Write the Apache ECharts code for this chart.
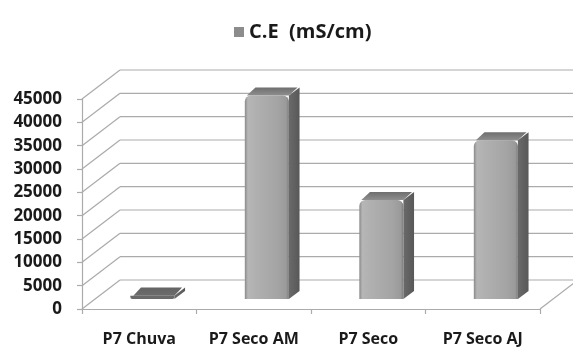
<!DOCTYPE html>
<html>
<head>
<meta charset="utf-8">
<script src="https://cdn.jsdelivr.net/npm/echarts@6/dist/echarts.min.js"></script>
<style>
  html, body { margin: 0; padding: 0; background: #ffffff; }
  #chart { width: 573px; height: 350px; }
</style>
</head>
<body>
<div id="chart"></div>
<script>
// Condutividade elétrica por ponto de coleta
const categories = ['P7 Chuva', 'P7 Seco AM', 'P7 Seco', 'P7 Seco AJ'];
const ceValues = [700, 43600, 21200, 34000];
const yTicks = [0, 5000, 10000, 15000, 20000, 25000, 30000, 35000, 40000, 45000];
const seriesName = 'C.E  (mS/cm)';

// Oblique projection of the 3D box: offset of the back wall in pixels
const DEPTH_DX = 38;
const DEPTH_DY = -29;
// Bar position inside the depth (fraction of floor depth) and its width (fraction of band)
const BAR_FRONT = 0.345;
const BAR_DEPTH = 0.28;
const BAR_WIDTH = 0.385;

const GRID_COLOR = '#ababab';
const FONT = '"Open Sans", "Liberation Sans", sans-serif';

const chart = echarts.init(document.getElementById('chart'), null, { renderer: 'canvas' });

function renderWalls(params, api) {
  const cs = params.coordSys;
  const x0 = cs.x, x1 = cs.x + cs.width;
  const children = [];
  const lineStyle = { stroke: GRID_COLOR, lineWidth: 1.2, fill: null };
  yTicks.forEach(function (v) {
    const y = api.coord([0, v])[1];
    // back wall gridline
    children.push({ type: 'line', shape: { x1: x0 + DEPTH_DX, y1: y + DEPTH_DY, x2: x1 + DEPTH_DX, y2: y + DEPTH_DY }, style: lineStyle });
    // left wall diagonal
    children.push({ type: 'line', shape: { x1: x0, y1: y, x2: x0 + DEPTH_DX, y2: y + DEPTH_DY }, style: lineStyle });
  });
  const yBase = api.coord([0, 0])[1];
  // right edge of the floor
  children.push({ type: 'line', shape: { x1: x1, y1: yBase, x2: x1 + DEPTH_DX, y2: yBase + DEPTH_DY }, style: lineStyle });
  return { type: 'group', children: children };
}

function renderBar(params, api) {
  const idx = api.value(0);
  const top = api.coord([idx, api.value(1)]);
  const base = api.coord([idx, 0]);
  const band = api.size([1, 0])[0];
  const w = band * BAR_WIDTH;
  const ox = DEPTH_DX * BAR_FRONT, oy = DEPTH_DY * BAR_FRONT;
  const sx = DEPTH_DX * BAR_DEPTH, sy = DEPTH_DY * BAR_DEPTH;
  const fx = top[0] - w / 2 + ox;
  const fyTop = top[1] + oy;
  const fyBase = base[1] + oy;
  const h = Math.max(fyBase - fyTop, 0.5);
  const tall = h > 12;

  const frontFill = tall ? new echarts.graphic.LinearGradient(0, 0, 1, 0, [
    { offset: 0, color: '#8a8a8a' },
    { offset: 0.07, color: '#b6b6b6' },
    { offset: 0.25, color: '#b0b0b0' },
    { offset: 0.75, color: '#a4a4a4' },
    { offset: 0.94, color: '#9a9a9a' },
    { offset: 1, color: '#7c7c7c' }
  ]) : '#6a6a6a';
  const sideFill = new echarts.graphic.LinearGradient(0, 0, 1, 0, [
    { offset: 0, color: '#6a6a6a' },
    { offset: 1, color: '#585858' }
  ]);
  const topFill = new echarts.graphic.LinearGradient(0, 1, 0, 0, [
    { offset: 0, color: tall ? '#8e8e8e' : '#6c6c6c' },
    { offset: 1, color: tall ? '#6e6e6e' : '#646464' }
  ]);

  const skew = tall ? 2 : 3;
  return {
    type: 'group',
    children: [
      { type: 'polygon', shape: { points: [[fx + w, fyTop], [fx + w + sx, fyTop + sy], [fx + w + sx, fyBase + sy], [fx + w, fyBase]] },
        style: { fill: sideFill } },
      { type: 'polygon', shape: { points: [[fx + skew, fyTop], [fx + sx, fyTop + sy], [fx + w + sx - skew, fyTop + sy], [fx + w, fyTop]] },
        style: { fill: topFill } },
      { type: 'rect', shape: { x: fx, y: fyTop, width: w, height: h, r: tall ? [6, 6, 0, 0] : [0, 0, 2, 2] },
        style: { fill: frontFill } }
    ]
  };
}

chart.setOption({
  animation: false,
  backgroundColor: '#ffffff',
  legend: {
    top: 17,
    left: 229,
    itemWidth: 10,
    itemHeight: 10,
    itemGap: 6,
    icon: 'rect',
    data: [seriesName],
    textStyle: { fontFamily: FONT, fontWeight: 'bold', fontSize: 20, color: '#1a1a1a' }
  },
  grid: { left: 82, right: 33, top: 99, bottom: 41, containLabel: false },
  xAxis: {
    type: 'category',
    data: categories,
    boundaryGap: true,
    axisLine: { show: true, lineStyle: { color: GRID_COLOR, width: 1.2 } },
    axisTick: { show: true, length: 5, lineStyle: { color: GRID_COLOR, width: 1.2 } },
    axisLabel: {
      interval: 0, hideOverlap: false, margin: 22,
      fontFamily: FONT, fontWeight: 'bold', fontSize: 16, color: '#1a1a1a'
    },
    splitLine: { show: false }
  },
  yAxis: {
    type: 'value',
    min: 0,
    max: 45000,
    interval: 5000,
    axisLine: { show: true, lineStyle: { color: GRID_COLOR, width: 1.2 } },
    axisTick: { show: true, length: 5, lineStyle: { color: GRID_COLOR, width: 1.2 } },
    axisLabel: {
      margin: 20, fontFamily: FONT, fontWeight: 'bold', fontSize: 17, color: '#1a1a1a',
      formatter: function (v) { return String(v); }
    },
    splitLine: { show: false }
  },
  series: [
    {
      name: 'walls',
      type: 'custom',
      silent: true,
      z: 1,
      renderItem: renderWalls,
      data: [[0, 0]]
    },
    {
      name: seriesName,
      type: 'custom',
      z: 3,
      itemStyle: { color: '#8c8c8c' },
      renderItem: renderBar,
      encode: { x: 0, y: 1 },
      data: ceValues.map(function (v, i) { return [i, v]; })
    }
  ]
});
</script>
</body>
</html>
